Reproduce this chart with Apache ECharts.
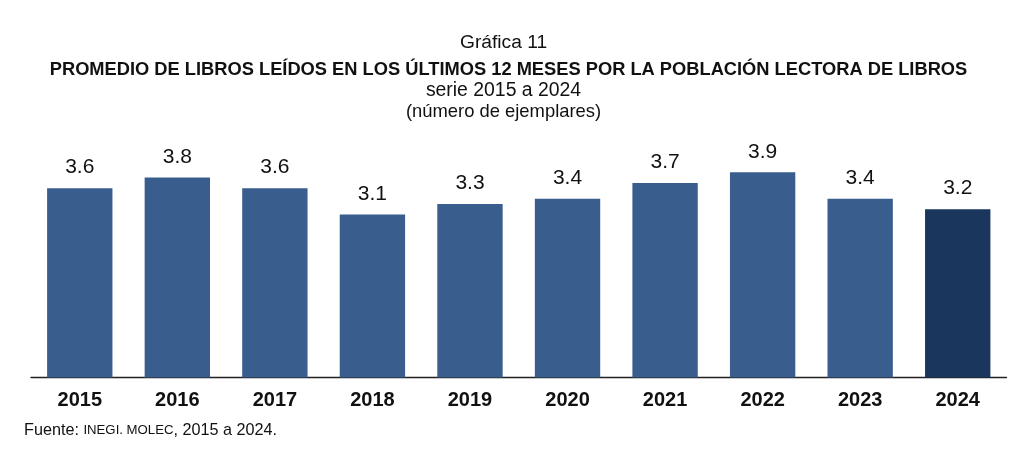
<!DOCTYPE html>
<html><head><meta charset="utf-8">
<script src="https://cdn.jsdelivr.net/npm/echarts@6/dist/echarts.min.js"></script>
<style>html,body{margin:0;padding:0;background:#fff}#c{width:1024px;height:450px}</style>
</head><body><div id="c"></div>
<script>
const years = ['2015','2016','2017','2018','2019','2020','2021','2022','2023','2024'];
const values = [3.6, 3.8, 3.6, 3.1, 3.3, 3.4, 3.7, 3.9, 3.4, 3.2];
const highlightYear = '2024';
const titleLines = ['Gráfica 11', 'PROMEDIO DE LIBROS LEÍDOS EN LOS ÚLTIMOS 12 MESES POR LA POBLACIÓN LECTORA DE LIBROS', 'serie 2015 a 2024', '(número de ejemplares)'];

const FONT = '"Liberation Sans", Arial, sans-serif';
const chart = echarts.init(document.getElementById('c'), null, {renderer: 'canvas'});
function line(text, x, y, font) {
  return {type: 'text', x: x, y: y, style: {text: text, font: font, fill: '#111', align: 'center', verticalAlign: 'middle'}};
}
chart.setOption({
  animation: false,
  textStyle: {fontFamily: FONT},
  graphic: [
    line(titleLines[0], 503.5, 43, '19.2px ' + FONT),
    line(titleLines[1], 508.5, 70, 'bold 18.3px ' + FONT),
    line(titleLines[2], 503.5, 91, '19.4px ' + FONT),
    line(titleLines[3], 503.5, 112, '18.4px ' + FONT),
    {type: 'text', left: 24, top: 422.5, style: {
      text: '{a|Fuente: }{b|INEGI. MOLEC}{a|, 2015 a 2024.}',
      rich: {a: {font: '16.2px ' + FONT, fill: '#111'}, b: {font: '13.2px ' + FONT, fill: '#111'}}
    }}
  ],
  grid: {left: 31, right: 17.5, top: 140.8, bottom: 72.5},
  xAxis: {
    type: 'category', data: years,
    axisLine: {lineStyle: {color: '#222', width: 1.3}},
    axisTick: {show: false},
    axisLabel: {fontSize: 20, fontWeight: 'bold', color: '#111', margin: 13}
  },
  yAxis: {type: 'value', min: 0, max: 4.5, show: false, splitLine: {show: false}},
  series: [{
    type: 'bar',
    data: values.map((v, i) => ({value: v, itemStyle: {color: years[i] === highlightYear ? '#1b365d' : '#395e8e'}})),
    barCategoryGap: '33%',
    label: {show: true, position: 'top', distance: 10, fontSize: 21, color: '#111', formatter: p => p.value.toFixed(1)}
  }]
});
</script></body></html>
